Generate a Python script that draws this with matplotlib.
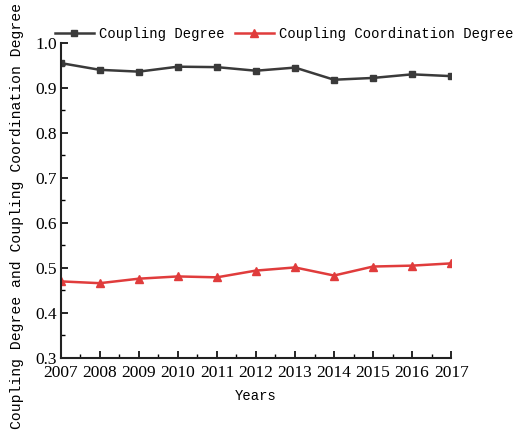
import numpy as np
import matplotlib
matplotlib.use('Agg')
import matplotlib.pyplot as plt
from matplotlib.ticker import MultipleLocator

years = [2007, 2008, 2009, 2010, 2011, 2012, 2013, 2014, 2015, 2016, 2017]
coupling = [0.955, 0.940, 0.936, 0.947, 0.946, 0.938, 0.945, 0.918, 0.922, 0.930, 0.926]
coordination = [0.470, 0.466, 0.476, 0.481, 0.479, 0.494, 0.501, 0.483, 0.503, 0.505, 0.510]

mono = 'Liberation Mono'
serif = 'Liberation Serif'

fig = plt.figure(figsize=(5.15, 4.37), dpi=100)
ax = fig.add_axes([0.118, 0.181, 0.758, 0.721])

ax.plot(years, coupling, '-s', color='#3a3a3a', lw=1.8, ms=5, label='Coupling Degree')
ax.plot(years, coordination, '-^', color='#e03c3c', lw=1.8, ms=6, label='Coupling Coordination Degree')

ax.set_xlim(2007, 2017)
ax.set_ylim(0.3, 1.0)
ax.xaxis.set_major_locator(MultipleLocator(1))
ax.xaxis.set_minor_locator(MultipleLocator(0.5))
ax.yaxis.set_major_locator(MultipleLocator(0.1))
ax.yaxis.set_minor_locator(MultipleLocator(0.05))
ax.yaxis.set_major_formatter(matplotlib.ticker.FormatStrFormatter('%.1f'))

for s in ['top', 'right']:
    ax.spines[s].set_visible(False)
for s in ['left', 'bottom']:
    ax.spines[s].set_linewidth(1.5)
    ax.spines[s].set_color('#222222')

ax.tick_params(which='major', direction='in', length=5, width=1.2, labelsize=12.5)
ax.tick_params(axis='x', which='major', pad=5)
ax.tick_params(axis='y', which='major', pad=3)
ax.tick_params(which='minor', direction='in', length=3, width=1.0)
for lab in ax.get_xticklabels() + ax.get_yticklabels():
    lab.set_fontfamily(serif)

ax.set_xlabel('Years', fontfamily=mono, fontsize=10, labelpad=6)
ax.set_ylabel('Coupling Degree and Coupling Coordination Degree', fontfamily=mono,
              fontsize=10.6, labelpad=2)
ax.yaxis.set_label_coords(-0.095, 0.45)

ax.legend(loc='lower left', bbox_to_anchor=(-0.015, 1.005), ncol=2, frameon=False,
          prop={'family': mono, 'size': 10}, handlelength=2.8, columnspacing=0.7,
          handletextpad=0.4, borderaxespad=0, borderpad=0)

fig.savefig('out.png', dpi=100)
